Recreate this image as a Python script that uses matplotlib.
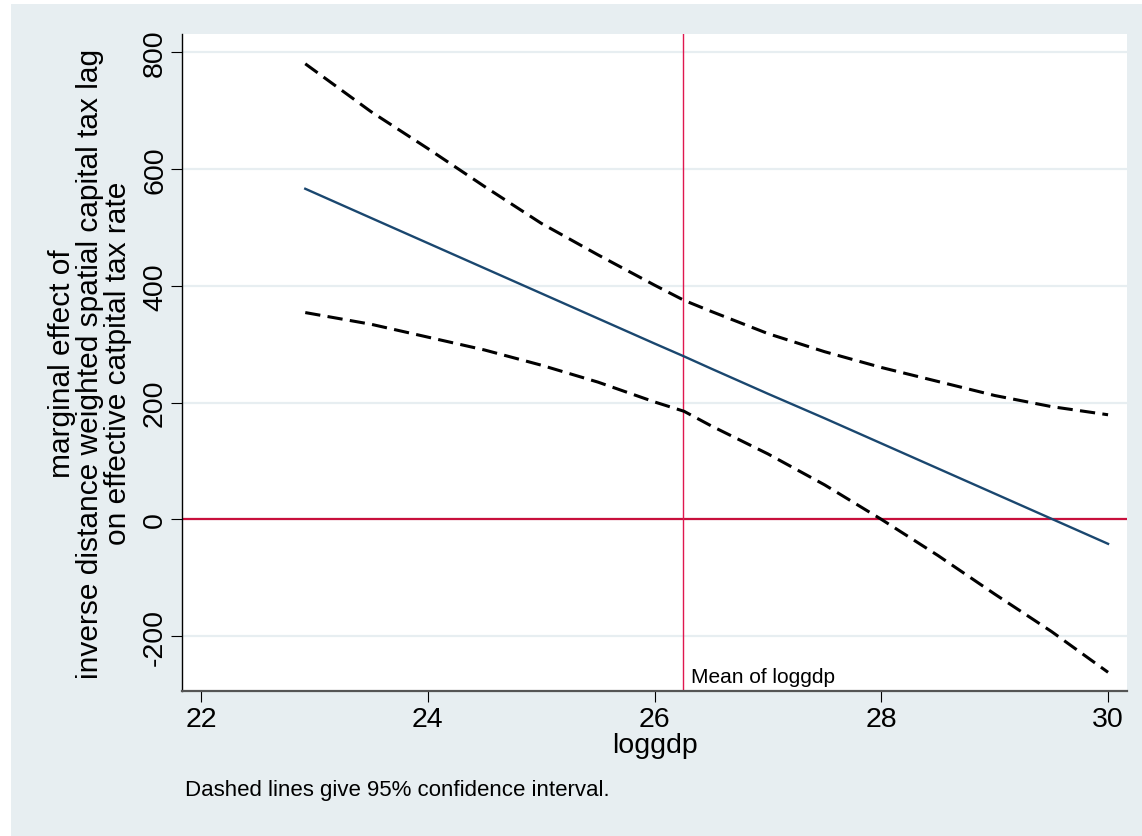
import matplotlib
matplotlib.use('Agg')
import matplotlib.pyplot as plt
from matplotlib.patches import Rectangle

# values (loggdp vs marginal effect)
loggdp = [22.92, 23.5, 24.0, 24.5, 25.0, 25.5, 26.0, 26.26, 26.5, 27.0,
          27.5, 28.0, 28.5, 29.0, 29.5, 30.0]
effect = [566, 516, 473, 430, 387, 344, 301, 279, 258, 215,
          173, 130, 87, 44, 1, -42]
upper = [780, 698, 635, 570, 507, 453, 401, 375, 356, 318,
         287, 260, 236, 212, 193, 179]
lower = [354, 334, 312, 290, 264, 235, 201, 185, 160, 112,
         59, 0, -62, -128, -192, -262]
mean_loggdp = 26.255

x_ticks = [22, 24, 26, 28, 30]
y_ticks = [-200, 0, 200, 400, 600, 800]

BG = '#e7eef1'
BLUE = '#1a476f'
RED = '#c8103c'

plt.rcParams['font.family'] = ['Liberation Sans', 'DejaVu Sans']
plt.rcParams['axes.unicode_minus'] = False

W, H = 1142, 837
fig = plt.figure(figsize=(W / 100, H / 100), dpi=100, facecolor='white')
# stata style outer background, leaves a thin white strip at left and top
fig.patches.append(Rectangle((11 / W, 0), 1 - 11 / W, (H - 5) / H,
                             transform=fig.transFigure, facecolor=BG,
                             edgecolor='none', zorder=-10))

ax = fig.add_axes([182 / W, (H - 692) / H, (1127 - 182) / W, (692 - 35) / H])
ax.set_facecolor('white')

ax.set_xlim(21.833, 30.167)
ax.set_ylim(-294, 831)

for t in y_ticks:
    ax.axhline(t, color=BG, lw=1.6, zorder=1)

ax.axhline(0, color=RED, lw=1.6, zorder=2)
ax.axvline(mean_loggdp, color='#e0174f', lw=1.0, zorder=2)

ax.plot(loggdp, upper, color='black', lw=2.2, dashes=(5, 2.4), zorder=3)
ax.plot(loggdp, lower, color='black', lw=2.2, dashes=(5, 2.4), zorder=3)
ax.plot(loggdp, effect, color=BLUE, lw=1.7, zorder=4)

ax.text(mean_loggdp + 0.065, 0.0137, 'Mean of loggdp', transform=ax.get_xaxis_transform(),
        fontsize=15, va='baseline', ha='left')

ax.set_xticks(x_ticks)
ax.set_yticks(y_ticks)
ax.tick_params(axis='both', length=8, width=0.8, color='black', labelsize=20.5, pad=3)
ax.tick_params(axis='y', pad=2)
for lab in ax.get_yticklabels():
    lab.set_rotation(90)
    lab.set_va('center')

ax.spines['top'].set_visible(False)
ax.spines['right'].set_visible(False)
ax.spines['left'].set_color('black')
ax.spines['left'].set_linewidth(1.0)
ax.spines['bottom'].set_color('#555555')
ax.spines['bottom'].set_linewidth(1.6)

ax.set_xlabel('loggdp', fontsize=20.5, labelpad=0)
ax.set_ylabel('marginal effect of\ninverse distance weighted spatial capital tax lag\n'
              'on effective catpital tax rate', fontsize=21.5, linespacing=1.02, labelpad=7)

fig.text(185 / W, 1 - 791 / H, 'Dashed lines give 95% confidence interval.',
         fontsize=16, ha='left', va='center')

fig.savefig('out.png', dpi=100, facecolor=fig.get_facecolor())
